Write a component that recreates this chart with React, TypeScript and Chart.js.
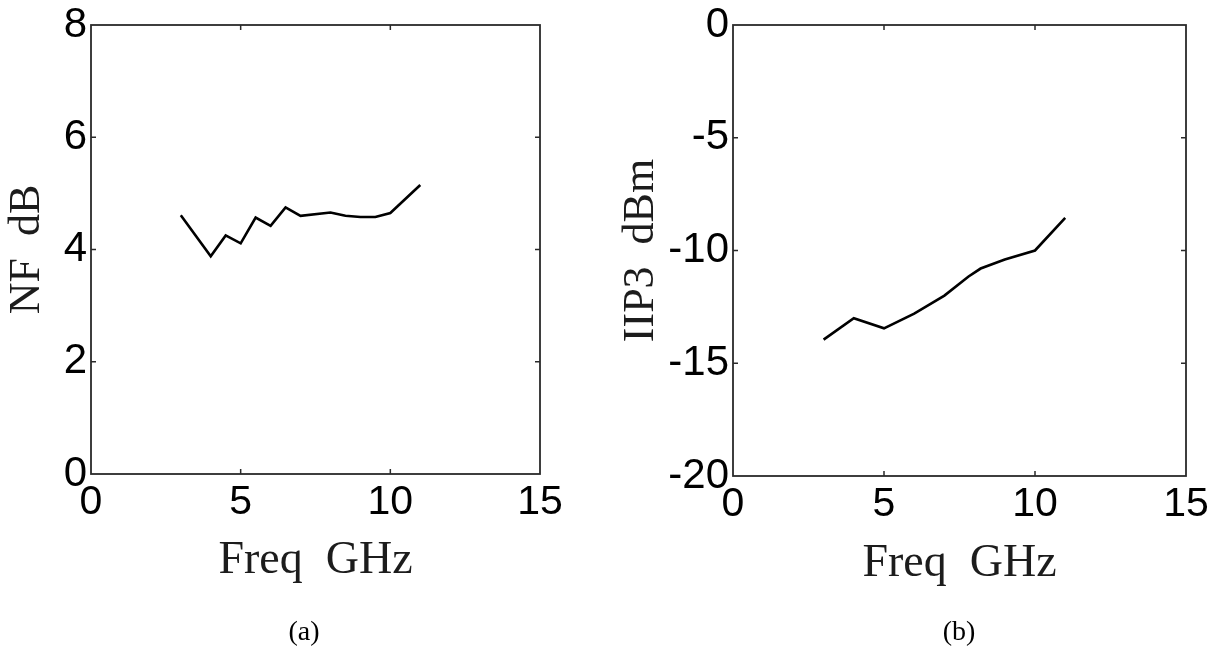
import React, { useEffect, useRef } from "react";
import { Chart, registerables } from "chart.js";

Chart.register(...registerables);

// ---- data ----
const freqNF = [3, 4, 4.5, 5, 5.5, 6, 6.5, 7, 8, 8.5, 9, 9.5, 10, 10.5, 11];
const nfValues = [4.61, 3.88, 4.25, 4.11, 4.57, 4.42, 4.75, 4.6, 4.66, 4.6, 4.58, 4.58, 4.65, 4.9, 5.15];
const freqIIP3 = [3, 4, 5, 6, 7, 7.8, 8.2, 9, 10, 11];
const iip3Values = [-13.95, -13, -13.45, -12.8, -12, -11.15, -10.8, -10.4, -10, -8.55];
const xTickValues = [0, 5, 10, 15];
const nfTickValues = [0, 2, 4, 6, 8];
const iip3TickValues = [-20, -15, -10, -5, 0];
const xTitle = "Freq  GHz";
const nfTitle = "NF  dB";
const iip3Title = "IIP3  dBm";
const captions = ["(a)", "(b)"];

const W = 612;
const H = 652;

const framePlugin = {
  id: "matlabFrame",
  afterDraw(chart: any) {
    const { ctx, chartArea } = chart;
    const { left, right, top, bottom } = chartArea;
    const xs = chart.scales.x;
    const ys = chart.scales.y;
    const tl = 5;
    ctx.save();
    ctx.strokeStyle = "#2a2a2a";
    ctx.lineWidth = 1.8;
    ctx.strokeRect(left, top, right - left, bottom - top);
    ctx.lineWidth = 1.5;
    ctx.beginPath();
    xs.ticks.forEach((t: any) => {
      const px = xs.getPixelForValue(t.value);
      if (Math.abs(px - left) < 2 || Math.abs(px - right) < 2) return;
      ctx.moveTo(px, bottom);
      ctx.lineTo(px, bottom - tl);
      ctx.moveTo(px, top);
      ctx.lineTo(px, top + tl);
    });
    ys.ticks.forEach((t: any) => {
      const py = ys.getPixelForValue(t.value);
      if (Math.abs(py - top) < 2 || Math.abs(py - bottom) < 2) return;
      ctx.moveTo(left, py);
      ctx.lineTo(left + tl, py);
      ctx.moveTo(right, py);
      ctx.lineTo(right - tl, py);
    });
    ctx.stroke();
    ctx.restore();
  },
};

type PanelProps = {
  xs: number[];
  ys: number[];
  yTicks: number[];
  yTitle: string;
  pad: { top: number; right: number };
  yAxisWidth: number;
  xAxisHeight: number;
  yTitlePad: number;
  xTitlePad: number;
};

function makeChart(canvas: HTMLCanvasElement, p: PanelProps) {
  const pts = p.xs.map((x, i) => ({ x, y: p.ys[i] }));
  const yMin = Math.min(...p.yTicks);
  const yMax = Math.max(...p.yTicks);
  return new Chart(canvas, {
    type: "line",
    data: {
      datasets: [
        {
          data: pts,
          borderColor: "#000",
          borderWidth: 2.6,
          pointRadius: 0,
          tension: 0,
          fill: false,
        },
      ],
    },
    options: {
      responsive: false,
      animation: false,
      layout: { padding: { left: 0, top: p.pad.top, right: p.pad.right, bottom: 0 } },
      plugins: { legend: { display: false }, tooltip: { enabled: false }, title: { display: false } },
      scales: {
        x: {
          type: "linear",
          min: 0,
          max: 15,
          grid: { display: false, drawTicks: false },
          border: { display: false },
          afterBuildTicks: (s: any) => {
            s.ticks = xTickValues.map((v) => ({ value: v }));
          },
          afterFit: (s: any) => {
            s.height = p.xAxisHeight;
          },
          ticks: {
            autoSkip: false,
            maxRotation: 0,
            padding: 8,
            color: "#000",
            font: { family: "'Liberation Sans', Arial, sans-serif", size: 41, lineHeight: 1 },
            callback: (v: any) => String(v),
          },
          title: {
            display: true,
            text: xTitle,
            color: "#1c1c1c",
            font: { family: "'Liberation Serif', 'Times New Roman', serif", size: 46, lineHeight: 1 },
            padding: { top: 0, bottom: p.xTitlePad },
          },
        },
        y: {
          type: "linear",
          min: yMin,
          max: yMax,
          grid: { display: false, drawTicks: false },
          border: { display: false },
          afterBuildTicks: (s: any) => {
            s.ticks = p.yTicks.map((v) => ({ value: v }));
          },
          afterFit: (s: any) => {
            s.width = p.yAxisWidth;
          },
          ticks: {
            autoSkip: false,
            padding: 4,
            color: "#000",
            font: { family: "'Liberation Sans', Arial, sans-serif", size: 42, lineHeight: 1 },
            callback: (v: any) => String(v),
          },
          title: {
            display: true,
            text: p.yTitle,
            color: "#1c1c1c",
            font: { family: "'Liberation Serif', 'Times New Roman', serif", size: 44, lineHeight: 1 },
            padding: { top: p.yTitlePad, bottom: 0 },
          },
        },
      },
    },
    plugins: [framePlugin],
  } as any);
}

function Panel(props: PanelProps & { left: number }) {
  const ref = useRef<HTMLCanvasElement | null>(null);
  useEffect(() => {
    if (!ref.current) return;
    const c = makeChart(ref.current, props);
    return () => c.destroy();
  }, []);
  return (
    <canvas
      ref={ref}
      width={W}
      height={H}
      style={{ position: "absolute", left: props.left, top: 0, width: W, height: H }}
    />
  );
}

const captionStyle = (cx: number): React.CSSProperties => ({
  position: "absolute",
  left: cx - 60,
  width: 120,
  top: 617,
  textAlign: "center",
  fontFamily: "'Liberation Serif', 'Times New Roman', serif",
  fontSize: 28,
  lineHeight: "28px",
  color: "#000",
});

export default function App() {
  return (
    <div style={{ position: "fixed", left: 0, top: 0, width: 1224, height: 652, background: "#fff", overflow: "hidden" }}>
      <Panel
        left={0}
        xs={freqNF}
        ys={nfValues}
        yTicks={nfTickValues}
        yTitle={nfTitle}
        pad={{ top: 24, right: W - 540 }}
        yAxisWidth={91}
        xAxisHeight={H - 474}
        yTitlePad={5}
        xTitlePad={68}
      />
      <Panel
        left={612}
        xs={freqIIP3}
        ys={iip3Values}
        yTicks={iip3TickValues}
        yTitle={iip3Title}
        pad={{ top: 23, right: W - 574 }}
        yAxisWidth={121}
        xAxisHeight={H - 476}
        yTitlePad={7}
        xTitlePad={65}
      />
      <div style={captionStyle(304)}>{captions[0]}</div>
      <div style={captionStyle(959)}>{captions[1]}</div>
    </div>
  );
}
